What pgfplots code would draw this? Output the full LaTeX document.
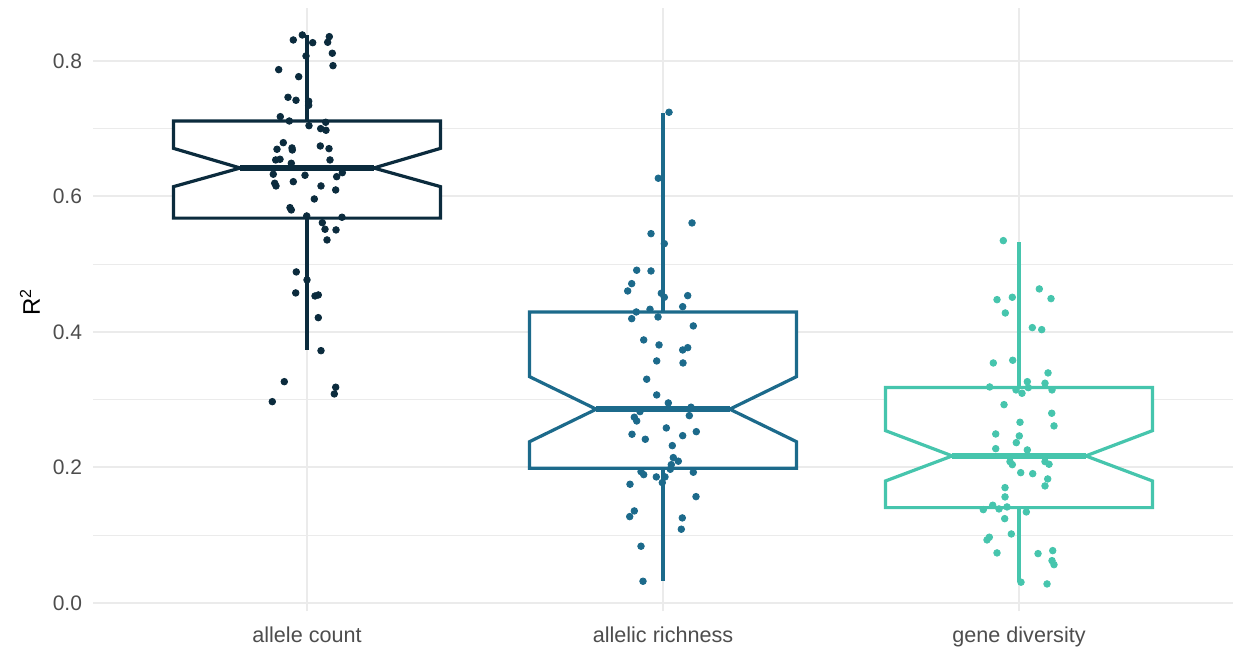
\documentclass[border=0pt]{standalone}
\usepackage{pgfplots}
\pgfplotsset{compat=1.18}
\usepackage{fontspec}
\setmainfont{Liberation Sans}
\definecolor{cA}{HTML}{0B2B3D}
\definecolor{cB}{HTML}{1C6A8B}
\definecolor{cC}{HTML}{46C5AD}
\definecolor{gridc}{HTML}{EBEBEB}
\definecolor{tickc}{HTML}{4D4D4D}

\pgfplotstableread{
x y
-0.0385 0.8310
-0.0132 0.8384
0.0160 0.8270
0.0626 0.8359
0.0581 0.8276
0.0711 0.8114
-0.0028 0.8074
0.0730 0.7931
-0.0795 0.7872
-0.0233 0.7768
-0.0534 0.7464
-0.0309 0.7420
0.0048 0.7405
0.0048 0.7346
-0.0750 0.7178
-0.0497 0.7114
0.0525 0.7095
0.0056 0.7045
0.0385 0.7001
0.0534 0.6977
-0.0666 0.6794
-0.0843 0.6697
-0.0421 0.6716
-0.0413 0.6686
0.0374 0.6745
0.0618 0.6706
-0.0879 0.6539
-0.0758 0.6549
-0.0441 0.6490
0.0646 0.6539
-0.0947 0.6328
-0.0056 0.6313
0.0834 0.6292
0.0992 0.6351
-0.0907 0.6195
-0.0871 0.6155
-0.0385 0.6218
0.0393 0.6155
0.0806 0.6096
0.0205 0.5963
-0.0478 0.5835
-0.0441 0.5801
-0.0008 0.5712
0.0983 0.5693
0.0430 0.5613
0.0506 0.5516
0.0815 0.5506
0.0562 0.5358
-0.0301 0.4886
0.0000 0.4768
-0.0317 0.4576
0.0225 0.4531
0.0317 0.4546
0.0317 0.4211
0.0393 0.3724
-0.0638 0.3266
0.0806 0.3184
0.0767 0.3085
-0.0975 0.2971
}\ptsA

\pgfplotstableread{
x y
1.0169 0.7243
0.9868 0.6269
1.0815 0.5609
0.9663 0.5451
1.0037 0.5303
0.9261 0.4911
0.9663 0.4900
0.9121 0.4713
0.9008 0.4605
0.9952 0.4571
1.0037 0.4512
1.0694 0.4536
0.9250 0.4295
0.9635 0.4335
1.0553 0.4373
0.9121 0.4196
0.9860 0.4221
1.0851 0.4089
0.9458 0.3882
0.9888 0.3808
1.0553 0.3734
1.0694 0.3768
0.9823 0.3572
1.0562 0.3542
0.9542 0.3302
0.9823 0.3070
1.0149 0.2952
1.0787 0.2889
0.9354 0.2824
1.0739 0.2765
0.9194 0.2741
0.9261 0.2686
1.0093 0.2583
0.9129 0.2490
0.9503 0.2416
1.0553 0.2469
1.0935 0.2528
1.0261 0.2322
1.0289 0.2145
1.0430 0.2092
1.0233 0.2041
1.0205 0.1973
0.9382 0.1938
0.9458 0.1894
1.0851 0.1929
0.9812 0.1860
1.0056 0.1860
0.9980 0.1776
0.9073 0.1752
1.0927 0.1569
0.9194 0.1358
0.9065 0.1274
1.0542 0.1255
1.0514 0.1088
0.9382 0.0837
0.9438 0.0320
}\ptsB

\pgfplotstableread{
x y
1.9559 0.5348
2.0570 0.4635
1.9382 0.4477
1.9812 0.4512
2.0899 0.4492
1.9615 0.4280
2.0374 0.4064
2.0638 0.4034
1.9278 0.3542
1.9823 0.3582
2.0815 0.3395
2.0233 0.3266
2.0730 0.3243
1.9177 0.3188
1.9916 0.3144
2.0084 0.3095
2.0261 0.3178
2.0927 0.3144
1.9579 0.2927
2.0919 0.2800
2.0028 0.2667
2.0983 0.2613
1.9346 0.2494
2.0008 0.2465
1.9924 0.2366
1.9346 0.2277
2.0233 0.2258
1.9747 0.2086
1.9812 0.2041
2.0730 0.2086
2.0843 0.2047
2.0048 0.1923
2.0385 0.1908
2.0806 0.1830
2.0730 0.1727
1.9607 0.1702
1.9607 0.1565
1.9261 0.1442
1.8997 0.1377
1.9438 0.1387
1.9663 0.1417
2.0205 0.1343
1.9598 0.1244
1.9784 0.1018
1.9166 0.0970
1.9101 0.0930
1.9382 0.0738
2.0534 0.0728
2.0947 0.0772
2.0927 0.0624
2.0983 0.0565
2.0056 0.0306
2.0787 0.0280
}\ptsC

\begin{document}
\begin{tikzpicture}
\begin{axis}[
  scale only axis, width=569.6pt, height=301.8pt,
  xmin=-0.6, xmax=2.6, ymin=-0.0125, ymax=0.8785,
  xtick={0,1,2},
  xticklabels={allele count, allelic richness, gene diversity},
  ytick={0,0.2,0.4,0.6,0.8},
  minor ytick={0.1,0.3,0.5,0.7},
  xmajorgrids, ymajorgrids, yminorgrids,
  major grid style={draw=gridc, line width=1pt},
  minor grid style={draw=gridc, line width=0.6pt},
  axis line style={draw=none},
  tick style={draw=none},
  major tick length=0pt, minor tick length=0pt,
  /pgf/number format/assume math mode=true,
  yticklabel style={/pgf/number format/fixed, /pgf/number format/fixed zerofill,
    /pgf/number format/precision=1, font=\fontsize{10.5}{12}\selectfont,
    text=tickc, anchor=east, inner sep=0pt, xshift=-5.5pt},
  xticklabel style={font=\fontsize{10.8}{12}\selectfont, text=tickc,
    anchor=north, inner sep=0pt, yshift=-7.5pt},
  ylabel={R\textsuperscript{2}},
  ylabel style={font=\fontsize{12}{14}\selectfont, text=black,
    at={(axis description cs:-0.0557,0.512)}, anchor=center},
  clip=false,
]
% allele count
\addplot[cA, line width=1.6pt] coordinates {(0,0.7114) (0,0.8384)};
\addplot[cA, line width=1.6pt] coordinates {(0,0.568) (0,0.373)};
\addplot[cA, line width=1.6pt, fill=white] coordinates {
 (-0.375,0.568) (-0.375,0.6145) (-0.1875,0.642) (-0.375,0.671) (-0.375,0.7114)
 (0.375,0.7114) (0.375,0.671) (0.1875,0.642) (0.375,0.6145) (0.375,0.568)} -- cycle;
\addplot[cA, line width=3.3pt] coordinates {(-0.1875,0.642) (0.1875,0.642)};
% allelic richness
\addplot[cB, line width=1.6pt] coordinates {(1,0.4295) (1,0.7228)};
\addplot[cB, line width=1.6pt] coordinates {(1,0.1988) (1,0.033)};
\addplot[cB, line width=1.6pt, fill=white] coordinates {
 (0.625,0.1988) (0.625,0.238) (0.8125,0.286) (0.625,0.334) (0.625,0.4295)
 (1.375,0.4295) (1.375,0.334) (1.1875,0.286) (1.375,0.238) (1.375,0.1988)} -- cycle;
\addplot[cB, line width=3.3pt] coordinates {(0.8125,0.286) (1.1875,0.286)};
% gene diversity
\addplot[cC, line width=1.6pt] coordinates {(2,0.318) (2,0.5333)};
\addplot[cC, line width=1.6pt] coordinates {(2,0.1407) (2,0.0305)};
\addplot[cC, line width=1.6pt, fill=white] coordinates {
 (1.625,0.1407) (1.625,0.180) (1.8125,0.217) (1.625,0.2543) (1.625,0.318)
 (2.375,0.318) (2.375,0.2543) (2.1875,0.217) (2.375,0.180) (2.375,0.1407)} -- cycle;
\addplot[cC, line width=3.3pt] coordinates {(1.8125,0.217) (2.1875,0.217)};
% points
\addplot[only marks, mark=*, mark size=1.65pt, color=cA, mark options={draw=cA, fill=cA}] table {\ptsA};
\addplot[only marks, mark=*, mark size=1.65pt, color=cB, mark options={draw=cB, fill=cB}] table {\ptsB};
\addplot[only marks, mark=*, mark size=1.65pt, color=cC, mark options={draw=cC, fill=cC}] table {\ptsC};
\end{axis}
\pgfresetboundingbox
\path[use as bounding box] ([xshift=-46.7pt,yshift=-19.15pt]current axis.south west) rectangle ([xshift=1.2pt,yshift=3.9pt]current axis.north east);
\end{tikzpicture}
\end{document}
